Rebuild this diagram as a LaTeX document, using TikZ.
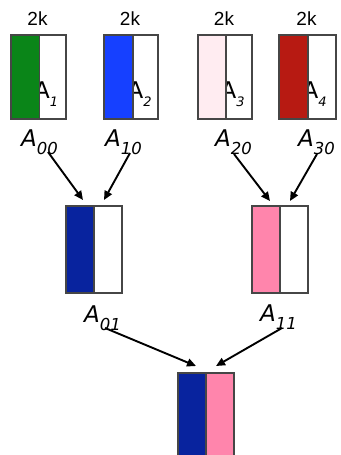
\documentclass[tikz,border=0pt]{standalone}
\usepackage{fontspec}
\setmainfont{DejaVu Sans}
\newfontfamily\arialf{Liberation Sans}
\usetikzlibrary{arrows.meta}
\definecolor{cgreen}{RGB}{10,133,24}
\definecolor{cblue}{RGB}{22,64,255}
\definecolor{cpale}{RGB}{255,236,241}
\definecolor{cred}{RGB}{183,26,18}
\definecolor{cnavy}{RGB}{8,35,158}
\definecolor{cpink}{RGB}{255,133,172}
\definecolor{cborder}{RGB}{70,70,70}
\newcommand{\biglbl}[1]{{\fontsize{23}{23}\selectfont\itshape A}\raisebox{-8pt}{\fontsize{16.5}{16.5}\selectfont\itshape #1}}
\newcommand{\inlbl}[1]{{\fontsize{23}{23}\selectfont A}\raisebox{-8.5pt}{\fontsize{13}{13}\selectfont\itshape #1}}
\begin{document}
\begin{tikzpicture}[x=1pt,y=-1pt,
  half/.style={draw=cborder, line width=1.1pt, inner sep=0pt, outer sep=0pt, anchor=north west},
  toph/.style={half, minimum height=84pt},
  midh/.style={half, minimum height=87pt},
  both/.style={half, minimum height=90pt},
  sizelbl/.style={anchor=base, inner sep=0pt, font=\arialf\fontsize{19}{19}\selectfont},
  inlabel/.style={anchor=base west, inner sep=0pt},
  outlabel/.style={anchor=base west, inner sep=0pt},
  arr/.style={line width=1.9pt, -{Triangle[length=9pt,width=8pt]}}]
\useasboundingbox (0,0) rectangle (340,455);
% right halves (white)
\node[toph, minimum width=26.5pt, fill=white] (b1r) at (39.5,35) {};
\node[toph, minimum width=25pt, fill=white] (b2r) at (133,35) {};
\node[toph, minimum width=26pt, fill=white] (b3r) at (226,35) {};
\node[toph, minimum width=28pt, fill=white] (b4r) at (308,35) {};
\node[midh, minimum width=28pt, fill=white] (b5r) at (94,206) {};
\node[midh, minimum width=28pt, fill=white] (b6r) at (280,206) {};
\node[both, minimum width=28pt, fill=cpink] (b7r) at (206,373) {};
% labels inside the boxes
\node[inlabel] (i1) at (34,98) {\inlbl{1}};
\node[inlabel] (i2) at (127.5,98) {\inlbl{2}};
\node[inlabel] (i3) at (220.5,98) {\inlbl{3}};
\node[inlabel] (i4) at (302.5,98) {\inlbl{4}};
% left halves (coloured)
\node[toph, minimum width=28.5pt, fill=cgreen] (b1l) at (11,35) {};
\node[toph, minimum width=29pt, fill=cblue] (b2l) at (104,35) {};
\node[toph, minimum width=28pt, fill=cpale] (b3l) at (198,35) {};
\node[toph, minimum width=29pt, fill=cred] (b4l) at (279,35) {};
\node[midh, minimum width=28pt, fill=cnavy] (b5l) at (66,206) {};
\node[midh, minimum width=28pt, fill=cpink] (b6l) at (252,206) {};
\node[both, minimum width=28pt, fill=cnavy] (b7l) at (178,373) {};
% size labels
\node[sizelbl] (k1) at (37.5,25) {2k};
\node[sizelbl] (k2) at (130,25) {2k};
\node[sizelbl] (k3) at (224,25) {2k};
\node[sizelbl] (k4) at (306.5,25) {2k};
% outer labels
\node[outlabel] (l00) at (21,146) {\biglbl{00}};
\node[outlabel] (l10) at (105,146) {\biglbl{10}};
\node[outlabel] (l20) at (215,146) {\biglbl{20}};
\node[outlabel] (l30) at (298,146) {\biglbl{30}};
\node[outlabel] (l01) at (84,322) {\biglbl{01}};
\node[outlabel] (l11) at (260,321) {\biglbl{11}};
% arrow end points
\coordinate (s1) at (48,152);  \coordinate (e1) at (83,200);
\coordinate (s2) at (130,153); \coordinate (e2) at (104,200);
\coordinate (s3) at (234,154); \coordinate (e3) at (270,201);
\coordinate (s4) at (317,154); \coordinate (e4) at (290,201);
\coordinate (s5) at (105,328); \coordinate (e5) at (196,366);
\coordinate (s6) at (282,328); \coordinate (e6) at (216,366);
\draw[arr] (s1) -- (e1);
\draw[arr] (s2) -- (e2);
\draw[arr] (s3) -- (e3);
\draw[arr] (s4) -- (e4);
\draw[arr] (s5) -- (e5);
\draw[arr] (s6) -- (e6);
\end{tikzpicture}
\end{document}
